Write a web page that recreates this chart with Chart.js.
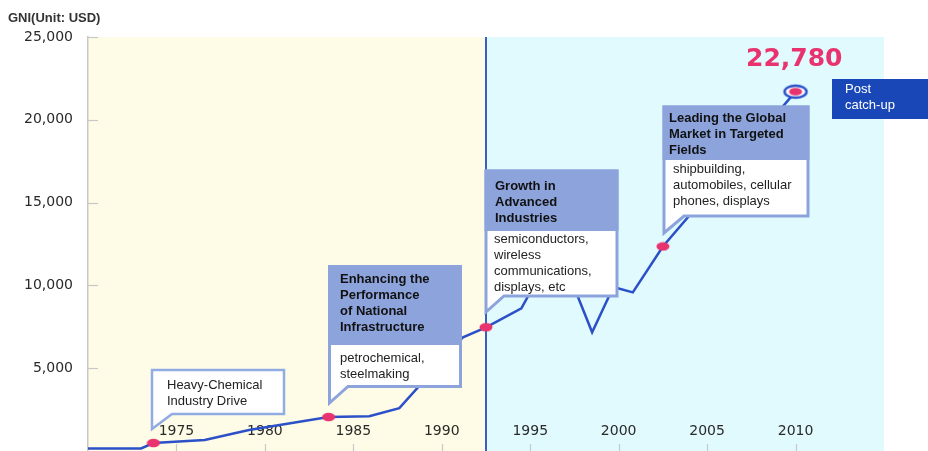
<!DOCTYPE html>
<html>
<head>
<meta charset="utf-8">
<script src="https://cdn.jsdelivr.net/npm/chart.js@4"></script>
<style>
html, body { margin: 0; padding: 0; background: #fff; overflow: hidden; }
#gniChart { display: block; }
</style>
</head>
<body>
<canvas id="gniChart" width="928" height="451"></canvas>
<script>
// GNI per capita (USD)
var years = [1970, 1973, 1973.7, 1976.6, 1979.1, 1983.6, 1985.9, 1987.6, 1991.2, 1992.5, 1994.5, 1996.5, 1998.5, 1999.7, 2000.8, 2002.5, 2010];
var gni   = [150, 150, 480, 660, 1270, 2050, 2100, 2590, 6870, 7470, 8610, 12500, 7170, 9900, 9580, 12350, 21700];
var markerIdx = [2, 5, 9, 15];     // pink dots
var lastIdx = 16;                  // ringed end point
var yearTicks = [1975, 1980, 1985, 1990, 1995, 2000, 2005, 2010];
var gniTicks = [5000, 10000, 15000, 20000, 25000];
var dividerYear = 1992.5;
var peakText = '22,780';

var callouts = [
  { head: [], body: ['Heavy-Chemical', 'Industry Drive'] },
  { head: ['Enhancing the', 'Performance', 'of National', 'Infrastructure'], body: ['petrochemical,', 'steelmaking'] },
  { head: ['Growth in', 'Advanced', 'Industries'], body: ['semiconductors,', 'wireless', 'communications,', 'displays, etc'] },
  { head: ['Leading the Global', 'Market in Targeted', 'Fields'], body: ['shipbuilding,', 'automobiles, cellular', 'phones, displays'] }
];
var stageText = ['Post', 'catch-up'];

// box geometry for the callouts (pixels)
var boxes = [
  { l: 152, r: 284, t: 370, b: 414, hb: null, tail: [172, 152, 429], tx: 167, ty: 385 },
  { l: 329.5, r: 460.5, t: 266.5, b: 386.5, hb: 345, tail: [348, 329.5, 403], tx: 340, ty: 279, by: 358 },
  { l: 486, r: 617, t: 171, b: 296, hb: 231, tail: [504, 486, 312], tx: 495, ty: 186, bx: 494, by: 239 },
  { l: 664, r: 808, t: 107, b: 216, hb: 160, tail: [684, 664, 233], tx: 669, ty: 118, bx: 673, by: 169 }
];

var PINK = '#e8336e';
var LINE = '#2b50c8';

// elliptic point images
function pinkDot() {
  var c = document.createElement('canvas');
  c.width = 14; c.height = 10;
  var g = c.getContext('2d');
  g.fillStyle = PINK;
  g.beginPath(); g.ellipse(7, 5, 6.5, 4.2, 0, 0, Math.PI * 2); g.fill();
  return c;
}
function ringDot() {
  var c = document.createElement('canvas');
  c.width = 28; c.height = 18;
  var g = c.getContext('2d');
  g.fillStyle = '#fff'; g.strokeStyle = LINE; g.lineWidth = 2.5;
  g.beginPath(); g.ellipse(14, 9, 11, 6, 0, 0, Math.PI * 2); g.fill(); g.stroke();
  g.fillStyle = PINK;
  g.beginPath(); g.ellipse(14, 9, 6.5, 3.8, 0, 0, Math.PI * 2); g.fill();
  return c;
}
var pinkImg = pinkDot();
var ringImg = ringDot();

var pts = years.map(function (y, i) { return { x: y, y: gni[i] }; });

var backdrop = {
  id: 'backdrop',
  beforeDraw: function (chart) {
    var ctx = chart.ctx, a = chart.chartArea, x = chart.scales.x;
    var xd = x.getPixelForValue(dividerYear);
    ctx.save();
    ctx.fillStyle = '#fff';
    ctx.fillRect(0, 0, chart.width, chart.height);
    ctx.fillStyle = '#fefce6';
    ctx.fillRect(a.left, a.top, xd - a.left, a.bottom - a.top);
    ctx.fillStyle = '#e0fafe';
    ctx.fillRect(xd, a.top, a.right - xd, a.bottom - a.top);
    ctx.fillStyle = '#333';
    ctx.font = 'bold 13px "Liberation Sans", Arial, sans-serif';
    ctx.textBaseline = 'middle';
    ctx.fillText('GNI(Unit: USD)', 8, 18);
    ctx.restore();
  },
  beforeDatasetsDraw: function (chart) {
    var ctx = chart.ctx, a = chart.chartArea, x = chart.scales.x, y = chart.scales.y;
    ctx.save();
    // inner tick marks
    ctx.strokeStyle = '#c8c8c8'; ctx.lineWidth = 1.2;
    gniTicks.forEach(function (v) {
      var py = Math.round(y.getPixelForValue(v)) + 0.5;
      ctx.beginPath(); ctx.moveTo(a.left, py); ctx.lineTo(a.left + 10, py); ctx.stroke();
    });
    yearTicks.forEach(function (v) {
      var px = Math.round(x.getPixelForValue(v)) + 0.5;
      ctx.beginPath(); ctx.moveTo(px, a.bottom - 7); ctx.lineTo(px, a.bottom); ctx.stroke();
    });
    ctx.fillStyle = '#2a2a2a';
    ctx.font = '14px "DejaVu Sans", sans-serif';
    ctx.textBaseline = 'middle';
    // value labels left of the axis
    ctx.textAlign = 'right';
    gniTicks.forEach(function (v) {
      ctx.fillText(v.toLocaleString('en-US'), a.left - 15, y.getPixelForValue(v));
    });
    // year labels sit inside the plot
    ctx.textAlign = 'center';
    yearTicks.forEach(function (v) {
      ctx.fillText(String(v), x.getPixelForValue(v), 431);
    });
    // divider
    var xd = x.getPixelForValue(dividerYear);
    ctx.strokeStyle = '#3a5ec4'; ctx.lineWidth = 2;
    ctx.beginPath(); ctx.moveTo(xd, a.top); ctx.lineTo(xd, a.bottom); ctx.stroke();
    ctx.restore();
  },
  afterDatasetsDraw: function (chart) {
    var ctx = chart.ctx;
    ctx.save();
    boxes.forEach(function (b, i) {
      var c = callouts[i];
      ctx.beginPath();
      ctx.moveTo(b.l, b.t); ctx.lineTo(b.r, b.t); ctx.lineTo(b.r, b.b);
      ctx.lineTo(b.tail[0], b.b); ctx.lineTo(b.tail[1], b.tail[2]); ctx.closePath();
      ctx.fillStyle = '#fff'; ctx.fill();
      ctx.lineJoin = 'miter';
      ctx.strokeStyle = b.hb ? '#8ca3dc' : '#91abe3';
      ctx.lineWidth = b.hb ? 3 : 2.5;
      ctx.stroke();
      ctx.textAlign = 'left'; ctx.textBaseline = 'middle';
      if (b.hb) {
        ctx.fillStyle = '#8ca3dc';
        ctx.fillRect(b.l - 1.5, b.t - 1.5, b.r - b.l + 3, b.hb - b.t + 1.5);
        ctx.fillStyle = '#111';
        ctx.font = 'bold 13px "Liberation Sans", Arial, sans-serif';
        c.head.forEach(function (s, k) { ctx.fillText(s, b.tx, b.ty + k * 16); });
        ctx.fillStyle = '#222';
        ctx.font = '13px "Liberation Sans", Arial, sans-serif';
        c.body.forEach(function (s, k) { ctx.fillText(s, b.bx || b.tx, b.by + k * 16); });
      } else {
        ctx.fillStyle = '#222';
        ctx.font = '13px "Liberation Sans", Arial, sans-serif';
        c.body.forEach(function (s, k) { ctx.fillText(s, b.tx, b.ty + k * 16); });
      }
    });
    // peak value
    ctx.fillStyle = PINK;
    ctx.font = 'bold 25px "DejaVu Sans", sans-serif';
    ctx.textAlign = 'left'; ctx.textBaseline = 'middle';
    ctx.fillText(peakText, 746, 59);
    // stage tag
    ctx.fillStyle = '#1a47b8';
    ctx.fillRect(832, 79, 96, 40);
    ctx.fillStyle = '#fff';
    ctx.font = '13px "Liberation Sans", Arial, sans-serif';
    ctx.fillText(stageText[0], 845, 89);
    ctx.fillText(stageText[1], 845, 105);
    ctx.restore();
  }
};

new Chart(document.getElementById('gniChart'), {
  type: 'line',
  data: {
    datasets: [{
      label: 'GNI',
      data: pts,
      borderColor: LINE,
      borderWidth: 2.5,
      tension: 0,
      fill: false,
      pointRadius: function (c) {
        if (c.dataIndex === lastIdx) return 12;
        return markerIdx.indexOf(c.dataIndex) >= 0 ? 6 : 0;
      },
      pointStyle: function (c) {
        if (c.dataIndex === lastIdx) return ringImg;
        return markerIdx.indexOf(c.dataIndex) >= 0 ? pinkImg : 'circle';
      }
    }]
  },
  options: {
    responsive: false,
    animation: false,
    devicePixelRatio: 1,
    layout: { autoPadding: false, padding: { top: 37, right: 44, bottom: 0, left: 0 } },
    plugins: { legend: { display: false }, tooltip: { enabled: false } },
    scales: {
      x: { type: 'linear', min: 1970, max: 2015, display: false },
      y: {
        min: 0, max: 25000,
        afterFit: function (s) { s.width = 88; },
        ticks: { display: false, stepSize: 5000 },
        grid: { drawOnChartArea: false, drawTicks: false },
        border: { color: '#c8c8c8', width: 1.5 }
      }
    }
  },
  plugins: [backdrop]
});
</script>
</body>
</html>
